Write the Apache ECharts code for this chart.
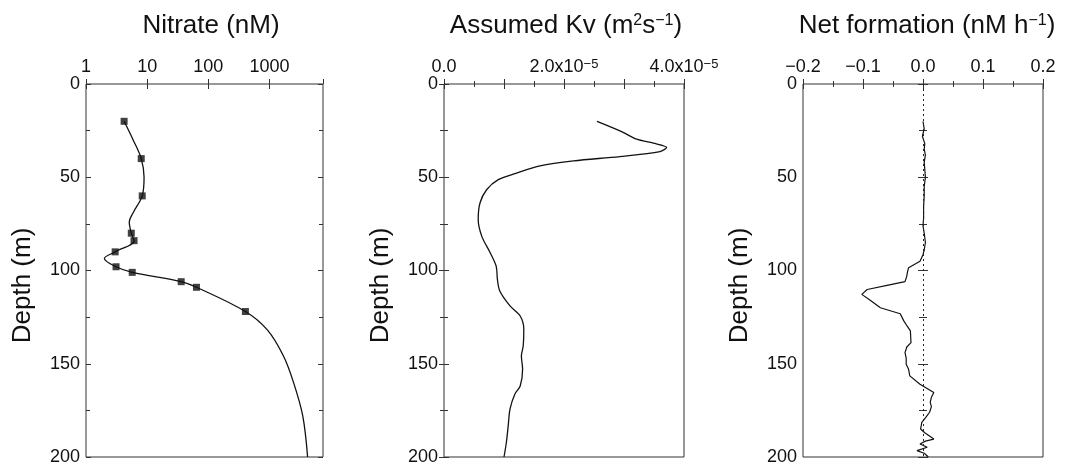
<!DOCTYPE html>
<html>
<head>
<meta charset="utf-8">
<script src="https://cdn.jsdelivr.net/npm/echarts@6/dist/echarts.min.js"></script>
<style>
  html, body { margin: 0; padding: 0; background: #fff; }
  #chart { width: 1066px; height: 466px; }
</style>
</head>
<body>
<div id="chart"></div>
<script>
// measured nitrate samples (squares)
var nitrateDepth = [20, 40, 60, 80, 84, 90, 98, 101, 106, 109, 122];
var nitrateConc = [4.2, 8.0, 8.3, 5.5, 6.1, 3.0, 3.1, 5.7, 36, 64, 404];

// fitted nitrate curve
var fitDepth = [20, 30, 40, 50, 60, 69, 74, 80, 84, 90, 93.5, 98, 101, 106, 109, 122, 132, 146, 160, 178, 200];
var fitConc = [4.2, 5.9, 8.0, 8.9, 8.3, 5.9, 5.1, 5.5, 6.1, 3.0, 2.0, 3.1, 5.7, 36, 64, 404, 930, 1700, 2470, 3500, 4200];

// assumed Kv profile (m2 s-1)
var kvDepth = [20, 25.5, 29.6, 31.7, 34, 36.2, 38.9, 41.2, 43.9, 47.8, 51.3, 56.7, 63.8, 72.7, 81.7, 90.5, 97.7, 104.8, 111, 119, 124.4, 131.5, 140.5, 145.8, 152.9, 161.9, 166.3, 174.3, 183.3, 192.1, 200];
var kvValue = [2.55e-5, 2.96e-5, 3.21e-5, 3.49e-5, 3.71e-5, 3.6e-5, 2.93e-5, 2.16e-5, 1.6e-5, 1.21e-5, 0.905e-5, 0.71e-5, 0.6e-5, 0.57e-5, 0.63e-5, 0.77e-5, 0.87e-5, 0.89e-5, 0.93e-5, 1.1e-5, 1.27e-5, 1.33e-5, 1.32e-5, 1.29e-5, 1.31e-5, 1.27e-5, 1.18e-5, 1.1e-5, 1.07e-5, 1.04e-5, 1.0e-5];

// net formation rate (nM h-1)
var netDepth = [20, 24, 28, 32, 35, 38, 42, 46, 50, 55, 60, 66, 72, 76, 80, 85, 89, 91.5, 95, 98.5, 101, 103, 106, 108, 110.2, 112.8, 116, 120, 123.2, 127, 130, 132.4, 138.7, 141, 144, 147, 150.3, 153, 156.5, 161, 165.4, 168, 170.7, 173, 176, 179, 181.4, 185, 187, 190.4, 191.5, 193, 194.8, 196.6, 198, 200];
var netRate = [0.000, 0.002, -0.001, 0.003, 0.002, 0.004, 0.002, 0.003, 0.004, 0.002, 0.002, 0.001, 0.001, 0.000, 0.002, 0.004, 0.002, 0.000, -0.005, -0.024, -0.026, -0.027, -0.030, -0.060, -0.093, -0.102, -0.088, -0.071, -0.038, -0.032, -0.026, -0.021, -0.020, -0.027, -0.030, -0.028, -0.028, -0.024, -0.022, -0.005, 0.018, 0.014, 0.012, 0.014, 0.011, 0.004, -0.002, -0.004, 0.003, 0.018, 0.004, -0.005, 0.007, -0.010, 0.002, 0.009];

var titles = ['Nitrate (nM)', 'Assumed Kv (m{sup|2}s{sup|\u22121})', 'Net formation (nM h{sup|\u22121})'];
var titleCenters = [211, 566, 927];

function pairs(xs, ys) {
    return xs.map(function (x, i) { return [x, ys[i]]; });
}

var FONT = 'Liberation Sans, Arial, sans-serif';
var INK = '#111';
var supStyle = { fontSize: 13, verticalAlign: 'top', lineHeight: 12, fontFamily: FONT, color: INK };

var grids = [
    { left: 86, top: 84, width: 237, height: 374 },
    { left: 444, top: 84, width: 240, height: 374 },
    { left: 803, top: 84, width: 240, height: 374 }
];
grids.forEach(function (g) {
    g.show = true;
    g.borderColor = '#333';
    g.borderWidth = 1;
    g.backgroundColor = 'transparent';
});

var xRanges = [
    { type: 'log', min: 1, max: 7500, logBase: 10,
      formatter: function (v) { return String(Math.round(v)); } },
    { type: 'value', min: 0, max: 4e-5, interval: 1e-5,
      formatter: function (v) {
          var k = Math.round(v / 1e-5);
          if (k === 0) return '0.0';
          if (k % 2) return '';
          return k.toFixed(1) + 'x10{sup|\u22125}';
      } },
    { type: 'value', min: -0.2, max: 0.2, interval: 0.1,
      formatter: function (v) {
          var s = Math.abs(v).toFixed(1);
          return (v < -1e-9 ? '\u2212' : '') + s;
      } }
];

var xAxes = [], yAxes = [];
grids.forEach(function (g, i) {
    var r = xRanges[i];
    var base = {
        gridIndex: i, type: r.type, min: r.min, max: r.max,
        splitLine: { show: false },
        axisLine: { show: false },
        axisTick: { show: true, inside: true, length: 5, lineStyle: { color: '#333' } },
        minorTick: { show: r.type !== 'log', splitNumber: 2, length: 3, lineStyle: { color: '#333' } }
    };
    if (r.type === 'log') base.logBase = 10; else base.interval = r.interval;
    xAxes.push(Object.assign({}, base, {
        position: 'top',
        axisLabel: { show: true, margin: 8, fontSize: 18, color: INK, fontFamily: FONT,
                     formatter: r.formatter, showMaxLabel: r.type !== 'log',
                     rich: { sup: supStyle } }
    }));
    xAxes.push(Object.assign({}, base, { position: 'bottom', axisLabel: { show: false } }));

    var ybase = {
        gridIndex: i, type: 'value', min: 0, max: 200, interval: 50, inverse: true,
        splitLine: { show: false },
        axisLine: { show: false },
        axisTick: { show: true, inside: true, length: 5, lineStyle: { color: '#333' } },
        minorTick: { show: true, splitNumber: 2, length: 4, lineStyle: { color: '#333' } }
    };
    yAxes.push(Object.assign({}, ybase, {
        position: 'left',
        name: 'Depth (m)', nameLocation: 'middle', nameRotate: 90, nameGap: 50,
        nameTextStyle: { fontSize: 26, color: INK, fontFamily: FONT, padding: [0, 30, 0, 0] },
        axisLabel: { margin: 6, fontSize: 18, color: INK, fontFamily: FONT }
    }));
    yAxes.push(Object.assign({}, ybase, { position: 'right', axisLabel: { show: false } }));
});

var chart = echarts.init(document.getElementById('chart'));
chart.setOption({
    animation: false,
    backgroundColor: '#fff',
    title: titles.map(function (t, i) {
        return {
            text: t, left: titleCenters[i], top: 13, textAlign: 'center', padding: 0,
            textStyle: { fontSize: 26, fontWeight: 'normal', color: INK, fontFamily: FONT,
                         rich: { sup: { fontSize: 16, verticalAlign: 'top', lineHeight: 16, fontFamily: FONT, color: INK } } }
        };
    }),
    grid: grids,
    xAxis: xAxes,
    yAxis: yAxes,
    series: [
        {
            type: 'line', xAxisIndex: 0, yAxisIndex: 0,
            data: pairs(fitConc, fitDepth),
            smooth: 0.35, showSymbol: false,
            lineStyle: { color: INK, width: 1.3 }
        },
        {
            type: 'scatter', xAxisIndex: 0, yAxisIndex: 0,
            data: pairs(nitrateConc, nitrateDepth),
            symbol: 'rect', symbolSize: 7,
            itemStyle: { color: INK }
        },
        {
            type: 'line', xAxisIndex: 2, yAxisIndex: 2,
            data: pairs(kvValue, kvDepth),
            smooth: 0.3, showSymbol: false,
            lineStyle: { color: INK, width: 1.3 }
        },
        {
            type: 'line', xAxisIndex: 4, yAxisIndex: 4,
            data: pairs(netRate, netDepth),
            showSymbol: false,
            lineStyle: { color: INK, width: 1.2 },
            markLine: {
                silent: true, symbol: 'none', label: { show: false },
                lineStyle: { color: '#222', type: [2, 3], width: 1 },
                data: [{ xAxis: 0 }]
            }
        }
    ]
});
</script>
</body>
</html>
